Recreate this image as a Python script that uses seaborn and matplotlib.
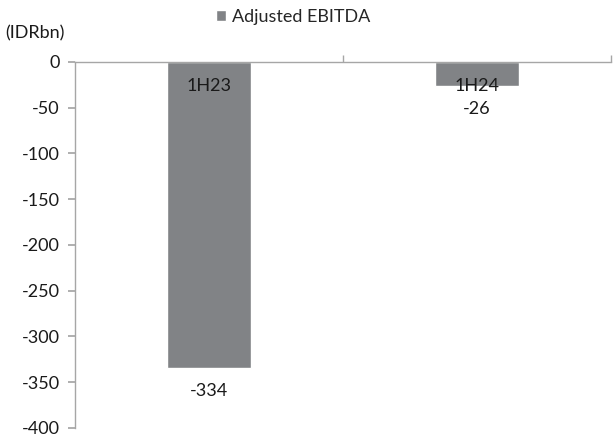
import matplotlib
matplotlib.use("Agg")
import matplotlib.pyplot as plt
import seaborn as sns
import pandas as pd
from matplotlib.ticker import FixedLocator

periods = ["1H23", "1H24"]
ebitda = [-334, -26]
series_name = "Adjusted EBITDA"
unit_label = "(IDRbn)"
y_ticks = [0, -50, -100, -150, -200, -250, -300, -350, -400]

df = pd.DataFrame({"period": periods, "value": ebitda, "series": series_name})

sns.set_theme(style="white")
plt.rcParams["font.family"] = ["Lato", "DejaVu Sans"]

FS = 13
bar_color = "#818386"
axis_color = "#a6a6a6"
text_color = "#1a1a1a"

fig = plt.figure(figsize=(6.13, 4.36), dpi=100)
ax = fig.add_axes([0.1223, 0.0184, 0.8744, 0.8394])

sns.barplot(data=df, x="period", y="value", hue="series", palette=[bar_color],
            width=0.31, ax=ax, saturation=1)

ax.set_ylim(-400, 0)
ax.set_xlim(-0.5, 1.5)
ax.set_yticks(y_ticks)
ax.set_yticklabels([str(t) for t in y_ticks], fontsize=FS, color=text_color)
ax.set_xlabel("")
ax.set_ylabel("")
ax.set_axisbelow(False)

# Category axis sits on the zero line at the top, labels hang just below it
for s in ["bottom", "right"]:
    ax.spines[s].set_visible(False)
for s in ["top", "left"]:
    ax.spines[s].set_color(axis_color)
    ax.spines[s].set_linewidth(1.0)

ax.set_xticks(range(len(periods)))
ax.set_xticklabels(periods)
ax.xaxis.set_ticks_position("top")
ax.tick_params(axis="x", which="major", length=0, top=False, bottom=False,
               labeltop=True, labelbottom=False, pad=-23, labelsize=FS,
               labelcolor=text_color)
ax.xaxis.set_minor_locator(FixedLocator([0.5, 1.5]))
ax.tick_params(axis="x", which="minor", direction="out", length=5,
               color=axis_color, top=True, bottom=False)
ax.tick_params(axis="y", which="major", direction="out", length=5, color=axis_color,
               left=True, pad=6)

for container in ax.containers:
    ax.bar_label(container, labels=[str(v) for v in ebitda], padding=11,
                 fontsize=FS, color=text_color)

ax.legend(loc="upper center", bbox_to_anchor=(0.478, 1.0),
          bbox_transform=fig.transFigure, frameon=False, fontsize=FS,
          handlelength=0.55, handleheight=0.55, handletextpad=0.35, borderaxespad=0.1)

fig.text(0.008, 0.924, unit_label, fontsize=FS, color=text_color, va="center")

fig.savefig("out.png", dpi=100)
